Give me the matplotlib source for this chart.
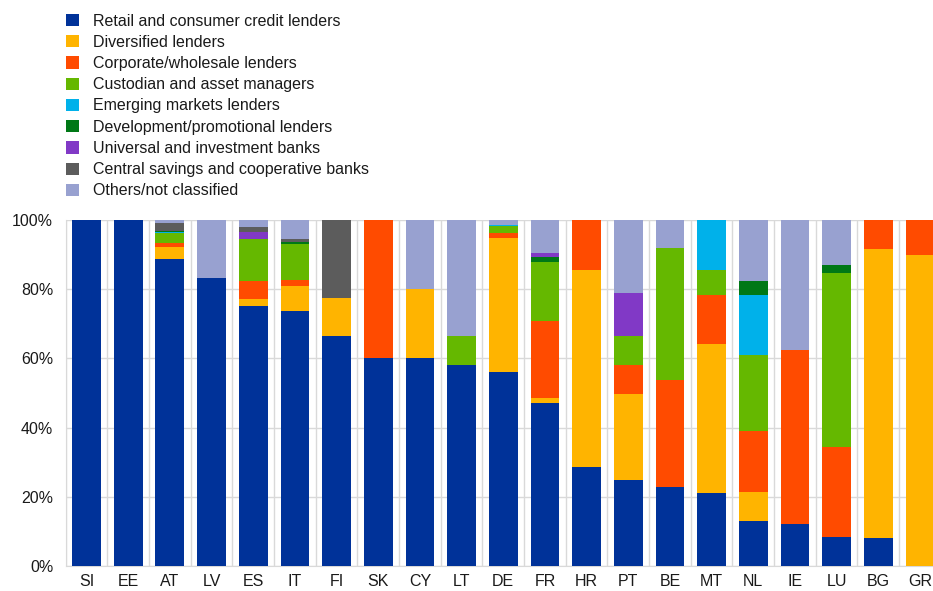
import numpy as np
import matplotlib
matplotlib.use('Agg')
import matplotlib.pyplot as plt
from matplotlib.patches import Patch

plt.rcParams['font.family'] = ['Liberation Sans', 'DejaVu Sans']

countries = ['SI', 'EE', 'AT', 'LV', 'ES', 'IT', 'FI', 'SK', 'CY', 'LT', 'DE',
             'FR', 'HR', 'PT', 'BE', 'MT', 'NL', 'IE', 'LU', 'BG', 'GR']

labels = ['Retail and consumer credit lenders', 'Diversified lenders',
          'Corporate/wholesale lenders', 'Custodian and asset managers',
          'Emerging markets lenders', 'Development/promotional lenders',
          'Universal and investment banks', 'Central savings and cooperative banks',
          'Others/not classified']

colors = ['#003299', '#FFB400', '#FF4B00', '#65B800', '#00B1EA',
          '#007816', '#8139C6', '#5C5C5C', '#98A1D0']

# shares in % per country (same order as countries)
retail      = [100, 100, 88.6, 83.1, 75.2, 73.8, 66.4, 60.0, 60.0, 58.2, 56.0,
               47.0, 28.5, 24.9, 22.9, 21.1, 12.9, 12.2, 8.5, 8.1, 0.0]
diversified = [0, 0, 3.7, 0, 2.0, 7.0, 11.1, 0, 20.0, 0, 38.9,
               1.5, 57.1, 24.8, 0, 43.0, 8.6, 0, 0, 83.5, 89.8]
corporate   = [0, 0, 1.1, 0, 5.2, 1.9, 0, 40.0, 0, 0, 1.4,
               22.3, 14.4, 8.5, 30.9, 14.1, 17.5, 50.1, 26.0, 8.4, 10.2]
custodian   = [0, 0, 2.8, 0, 12.1, 10.4, 0, 0, 0, 8.2, 2.0,
               17.1, 0, 8.2, 38.2, 7.5, 21.9, 0, 50.1, 0, 0]
emerging    = [0, 0, 0.4, 0, 0, 0, 0, 0, 0, 0, 0.3,
               0, 0, 0, 0, 14.3, 17.3, 0, 0, 0, 0]
development = [0, 0, 0.3, 0, 0, 0.6, 0, 0, 0, 0, 0,
               1.4, 0, 0, 0, 0, 4.1, 0, 2.3, 0, 0]
universal   = [0, 0, 0, 0, 1.9, 0, 0, 0, 0, 0, 0,
               1.2, 0, 12.6, 0, 0, 0, 0, 0, 0, 0]
central     = [0, 0, 2.3, 0, 1.5, 0.8, 22.5, 0, 0, 0, 0,
               0, 0, 0, 0, 0, 0, 0, 0, 0, 0]
others      = [0, 0, 0.8, 16.9, 2.1, 5.5, 0, 0, 20.0, 33.6, 1.4,
               9.5, 0, 21.0, 8.0, 0, 17.7, 37.7, 13.1, 0, 0]

series = [retail, diversified, corporate, custodian, emerging,
          development, universal, central, others]

fig = plt.figure(figsize=(9.33, 5.91), dpi=100)
ax = fig.add_axes([0.0704, 0.0423, 0.938, 0.5854])

x = np.arange(len(countries))
bottom = np.zeros(len(countries))
for vals, col in zip(series, colors):
    vals = np.array(vals, dtype=float)
    ax.bar(x, vals, width=0.69, bottom=bottom, color=col, linewidth=0, zorder=3)
    bottom += vals

grid_col = '#D9D9D9'
ax.set_xlim(-0.5, len(countries) - 0.5)
ax.set_ylim(0, 100)
ax.set_yticks([0, 20, 40, 60, 80, 100])
ax.set_yticklabels([f'{v}%' for v in range(0, 101, 20)])
ax.set_xticks(x)
ax.set_xticklabels(countries)
ax.set_xticks(np.arange(len(countries) + 1) - 0.5, minor=True)
ax.grid(axis='y', color=grid_col, linewidth=1, zorder=0)
ax.grid(axis='x', which='minor', color=grid_col, linewidth=1, zorder=0)
ax.tick_params(axis='both', which='both', length=0, labelsize=11.5, colors='#1A1A1A')
ax.tick_params(axis='x', pad=6)
ax.tick_params(axis='y', pad=9)
for s in ['top', 'right']:
    ax.spines[s].set_visible(False)
for s in ['left', 'bottom']:
    ax.spines[s].set_color(grid_col)

handles = [Patch(facecolor=c, edgecolor='none') for c in colors]
fig.legend(handles, labels, loc='upper left', bbox_to_anchor=(0.0565, 1.0),
           frameon=False, fontsize=11.5, handlelength=0.8, handleheight=0.8,
           handletextpad=0.85, labelspacing=0.39, borderaxespad=0.45,
           labelcolor='#1A1A1A')

fig.savefig('out.png', dpi=100)
